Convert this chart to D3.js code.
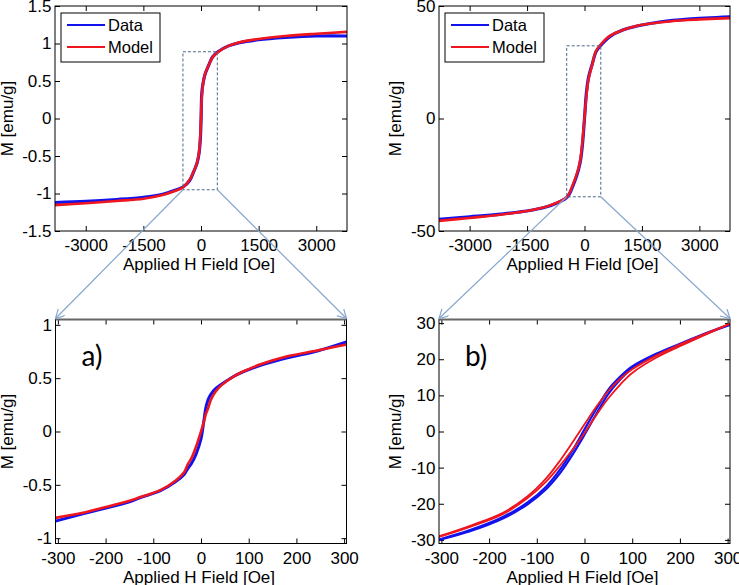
<!DOCTYPE html>
<html>
<head>
<meta charset="utf-8">
<script src="https://cdn.jsdelivr.net/npm/d3@7"></script>
<style>
body { margin: 0; background: #fff; }
svg { display: block; }
text { font-family: "Liberation Sans", Arial, sans-serif; fill: #000; }
</style>
</head>
<body>
<div id="chart"></div>
<script>

// top-left panel: full loop, sample 1 [Oe] / [emu/g]
var fieldA = [-3800, -3000, -2200, -1500, -1000, -700, -460, -300, -200, -100, -50, -20, 0, 20, 50, 100, 200, 300, 440, 700, 1000, 1500, 2200, 3000, 3800];
var dataA  = [-1.12, -1.105, -1.08, -1.05, -1.01, -0.96, -0.91, -0.83, -0.72, -0.59, -0.46, -0.30, -0.05, 0.33, 0.46, 0.58, 0.71, 0.82, 0.89, 0.965, 1.01, 1.05, 1.08, 1.1, 1.1];
var modelA = [-1.155, -1.13, -1.1, -1.07, -1.02, -0.97, -0.915, -0.82, -0.72, -0.585, -0.45, -0.25, 0.0, 0.28, 0.45, 0.585, 0.71, 0.815, 0.885, 0.965, 1.015, 1.06, 1.1, 1.13, 1.155];

// top-right panel: full loop, sample 2
var fieldB = [-3800, -3000, -2200, -1400, -900, -460, -300, -200, -150, -100, -50, 0, 50, 100, 150, 200, 300, 430, 670, 1000, 1400, 2000, 2700, 3800];
var dataB  = [-44.8, -43.7, -42.5, -40.8, -38.8, -35.1, -29.8, -25.2, -22.3, -18.2, -11.0, 0, 11.5, 17.8, 21.2, 24.0, 29.6, 32.6, 36.5, 39.3, 41.2, 43.0, 44.2, 45.2];
var modelB = [-45.5, -44.2, -42.8, -40.8, -38.6, -34.8, -29.2, -24.5, -21.6, -17.3, -9.5, 0.5, 10.0, 17.0, 20.8, 23.8, 30.0, 33.0, 36.8, 39.3, 41.3, 42.8, 43.8, 44.6];

// a) zoom on sample 1
var fieldZa = [-305, -250, -210, -150, -127, -85, -53, -35, -28, -20, -11, 0, 6, 10, 15, 21, 30, 42, 70, 100, 125, 181, 244, 305];
var dataZa  = [-0.84, -0.775, -0.73, -0.66, -0.62, -0.555, -0.47, -0.40, -0.35, -0.30, -0.22, -0.07, 0.1, 0.22, 0.30, 0.35, 0.40, 0.44, 0.52, 0.58, 0.62, 0.69, 0.755, 0.84];
var modelZa = [-0.81, -0.765, -0.72, -0.65, -0.615, -0.55, -0.46, -0.38, -0.31, -0.25, -0.15, 0.0, 0.09, 0.16, 0.22, 0.30, 0.37, 0.43, 0.52, 0.585, 0.63, 0.705, 0.76, 0.815];

// b) zoom on sample 2, both branches of the loop
var fieldZb    = [-305, -240, -170, -120, -80, -50, -25, 0, 25, 50, 75, 100, 150, 200, 250, 305];
var dataUpZb   = [-29.9, -27.3, -23.6, -19.7, -15.2, -10.3, -5.2, 0.6, 6.3, 11.6, 15.2, 18.0, 21.5, 24.3, 27.0, 29.6];
var dataLowZb  = [-30.0, -27.6, -24.0, -20.2, -15.9, -11.3, -6.4, -0.9, 4.9, 10.4, 14.4, 17.5, 21.1, 24.0, 26.8, 29.5];
var modelUpZb  = [-29.0, -26.1, -22.4, -18.0, -12.9, -7.8, -3.0, 2.0, 6.9, 11.2, 14.6, 17.2, 21.0, 24.1, 26.9, 29.9];
var modelLowZb = [-29.2, -26.4, -22.8, -18.5, -13.8, -9.2, -5.0, -0.4, 4.6, 9.2, 13.0, 16.2, 20.4, 23.6, 26.6, 29.8];

// ticks
var ticksFieldWide = [-3000, -1500, 0, 1500, 3000];
var ticksFieldNarrow = [-300, -200, -100, 0, 100, 200, 300];
var ticksMA = [-1.5, -1, -0.5, 0, 0.5, 1, 1.5];
var ticksMB = [-50, 0, 50];
var ticksMZa = [-1, -0.5, 0, 0.5, 1];
var ticksMZb = [-30, -20, -10, 0, 10, 20, 30];

// zoomed windows drawn as dashed boxes on the top panels
var zoomFieldA = [-470, 425], zoomMA = [-0.95, 0.89];
var zoomFieldB = [-465, 425], zoomMB = [-34.8, 32.3];

var seriesNames = ["Data", "Model"];
var seriesColors = ["#1212ee", "#f0161e"];

var width = 739, height = 585;

var svg = d3.select("#chart").append("svg")
    .attr("width", width)
    .attr("height", height);

var defs = svg.append("defs");

defs.append("marker")
    .attr("id", "arrow")
    .attr("markerUnits", "userSpaceOnUse")
    .attr("markerWidth", 12)
    .attr("markerHeight", 12)
    .attr("refX", 9)
    .attr("refY", 5)
    .attr("orient", "auto")
  .append("path")
    .attr("d", "M0,0 L9,5 L0,10")
    .attr("fill", "none")
    .attr("stroke", "#86a6cc")
    .attr("stroke-width", 1.2);

function fmt(d) { return String(d); }

// one matlab-style axes box
function drawPanel(p) {
    var x = d3.scaleLinear().domain(p.xDomain).range([p.left, p.right]);
    var y = d3.scaleLinear().domain(p.yDomain).range([p.bottom, p.top]);

    var g = svg.append("g").attr("class", "panel-" + p.id);

    defs.append("clipPath").attr("id", "clip-" + p.id)
      .append("rect")
        .attr("x", p.left).attr("y", p.top)
        .attr("width", p.right - p.left).attr("height", p.bottom - p.top);

    var xb = g.append("g").attr("transform", "translate(0," + p.bottom + ")")
        .call(d3.axisBottom(x).tickValues(p.xTicks).tickFormat(fmt).tickSizeInner(-5).tickSizeOuter(0).tickPadding(8));
    var xt = g.append("g").attr("transform", "translate(0," + p.top + ")")
        .call(d3.axisTop(x).tickValues(p.xTicks).tickFormat("").tickSizeInner(-5).tickSizeOuter(0));
    var yl = g.append("g").attr("transform", "translate(" + p.left + ",0)")
        .call(d3.axisLeft(y).tickValues(p.yTicks).tickFormat(fmt).tickSizeInner(-5).tickSizeOuter(0).tickPadding(3.5));
    var yr = g.append("g").attr("transform", "translate(" + p.right + ",0)")
        .call(d3.axisRight(y).tickValues(p.yTicks).tickFormat("").tickSizeInner(-5).tickSizeOuter(0));

    [xb, xt, yl, yr].forEach(function(a) {
        a.select(".domain").remove();
        a.selectAll("line").attr("stroke", "#000");
        a.selectAll("text").attr("font-size", 17).attr("font-family", null).attr("fill", "#000");
    });

    var lineGen = d3.line()
        .x(function(d) { return x(d[0]); })
        .y(function(d) { return y(d[1]); })
        .curve(d3.curveCatmullRom);

    var curves = g.append("g").attr("clip-path", "url(#clip-" + p.id + ")");
    p.series.forEach(function(s) {
        var pts = s.field.map(function(f, i) { return [f, s.values[i]]; });
        curves.append("path")
            .attr("d", lineGen(pts))
            .attr("fill", "none")
            .attr("stroke", seriesColors[s.k])
            .attr("stroke-width", s.w)
            .attr("stroke-linejoin", "round")
            .attr("stroke-linecap", "round");
    });

    g.append("rect")
        .attr("x", p.left).attr("y", p.top)
        .attr("width", p.right - p.left).attr("height", p.bottom - p.top)
        .attr("fill", "none")
        .attr("stroke", "#000")
        .attr("stroke-width", 1);

    if (p.grayTop) {
        g.append("line")
            .attr("x1", p.left).attr("x2", p.right)
            .attr("y1", p.top).attr("y2", p.top)
            .attr("stroke", "#666")
            .attr("stroke-width", 2);
    }

    g.append("text")
        .attr("x", (p.left + p.right) / 2 - 2)
        .attr("y", p.bottom + 39)
        .attr("text-anchor", "middle")
        .attr("font-size", 17)
        .text("Applied H Field [Oe]");

    g.append("text")
        .attr("transform", "translate(" + (p.left - p.yLabelOff) + "," + ((p.top + p.bottom) / 2) + ") rotate(-90)")
        .attr("text-anchor", "middle")
        .attr("font-size", 17)
        .text("M [emu/g]");

    if (p.legend) {
        var lx = p.left + 6, ly = p.top + 7;
        var lg = g.append("g");
        lg.append("rect")
            .attr("x", lx).attr("y", ly)
            .attr("width", 99).attr("height", 49)
            .attr("fill", "#fff").attr("stroke", "#000");
        seriesNames.forEach(function(name, i) {
            lg.append("line")
                .attr("x1", lx + 6).attr("x2", lx + 44)
                .attr("y1", ly + 12 + i * 22).attr("y2", ly + 12 + i * 22)
                .attr("stroke", seriesColors[i]).attr("stroke-width", 2);
            lg.append("text")
                .attr("x", lx + 47).attr("y", ly + 18 + i * 22)
                .attr("font-size", 16.5)
                .text(name);
        });
    }

    if (p.tag) {
        g.append("text")
            .attr("x", p.left + 26).attr("y", p.top + 46)
            .attr("font-size", 28)
            .style("font-family", "Lato, 'Noto Sans', sans-serif")
            .text(p.tag);
    }

    return {x: x, y: y};
}

var pA = drawPanel({
    id: "A", left: 55, right: 347, top: 6, bottom: 231,
    xDomain: [-3800, 3800], yDomain: [-1.5, 1.5],
    xTicks: ticksFieldWide, yTicks: ticksMA, yLabelOff: 42, legend: true,
    series: [{k: 0, w: 3.2, field: fieldA, values: dataA}, {k: 1, w: 2.6, field: fieldA, values: modelA}]
});

var pB = drawPanel({
    id: "B", left: 439, right: 730, top: 6, bottom: 231,
    xDomain: [-3800, 3800], yDomain: [-50, 50],
    xTicks: ticksFieldWide, yTicks: ticksMB, yLabelOff: 38.5, legend: true,
    series: [{k: 0, w: 3.2, field: fieldB, values: dataB}, {k: 1, w: 2.6, field: fieldB, values: modelB}]
});

var pZa = drawPanel({
    id: "Za", left: 55.5, right: 346.5, top: 319.5, bottom: 543.5,
    xDomain: [-305, 305], yDomain: [-1.05, 1.05],
    xTicks: ticksFieldNarrow, yTicks: ticksMZa, yLabelOff: 43, grayTop: true, tag: "a)",
    series: [{k: 0, w: 3, field: fieldZa, values: dataZa}, {k: 1, w: 2.6, field: fieldZa, values: modelZa}]
});

var pZb = drawPanel({
    id: "Zb", left: 439, right: 730, top: 319.5, bottom: 543.5,
    xDomain: [-305, 305], yDomain: [-31, 31],
    xTicks: ticksFieldNarrow, yTicks: ticksMZb, yLabelOff: 38.5, grayTop: true, tag: "b)",
    series: [
        {k: 0, w: 2.2, field: fieldZb, values: dataUpZb},
        {k: 0, w: 2.2, field: fieldZb, values: dataLowZb},
        {k: 1, w: 1.8, field: fieldZb, values: modelUpZb},
        {k: 1, w: 1.8, field: fieldZb, values: modelLowZb}
    ]
});

// dashed zoom boxes and the connectors to the zoomed panels
function drawZoomLink(src, fieldRange, mRange, dst) {
    var x0 = src.x(fieldRange[0]), x1 = src.x(fieldRange[1]);
    var y0 = src.y(mRange[1]), y1 = src.y(mRange[0]);

    svg.append("rect")
        .attr("x", x0).attr("y", y0)
        .attr("width", x1 - x0).attr("height", y1 - y0)
        .attr("fill", "none")
        .attr("stroke", "#4d6a88")
        .attr("stroke-width", 1)
        .attr("stroke-dasharray", "3,2");

    var tx0 = dst.x.range()[0], tx1 = dst.x.range()[1], ty = dst.y.range()[1];

    [[x0, tx0], [x1, tx1]].forEach(function(pair) {
        svg.append("line")
            .attr("x1", pair[0]).attr("y1", y1)
            .attr("x2", pair[1]).attr("y2", ty - 1)
            .attr("stroke", "#86a6cc")
            .attr("stroke-width", 1.2)
            .attr("marker-end", "url(#arrow)");
    });
}

drawZoomLink(pA, zoomFieldA, zoomMA, pZa);
drawZoomLink(pB, zoomFieldB, zoomMB, pZb);

</script>
</body>
</html>
